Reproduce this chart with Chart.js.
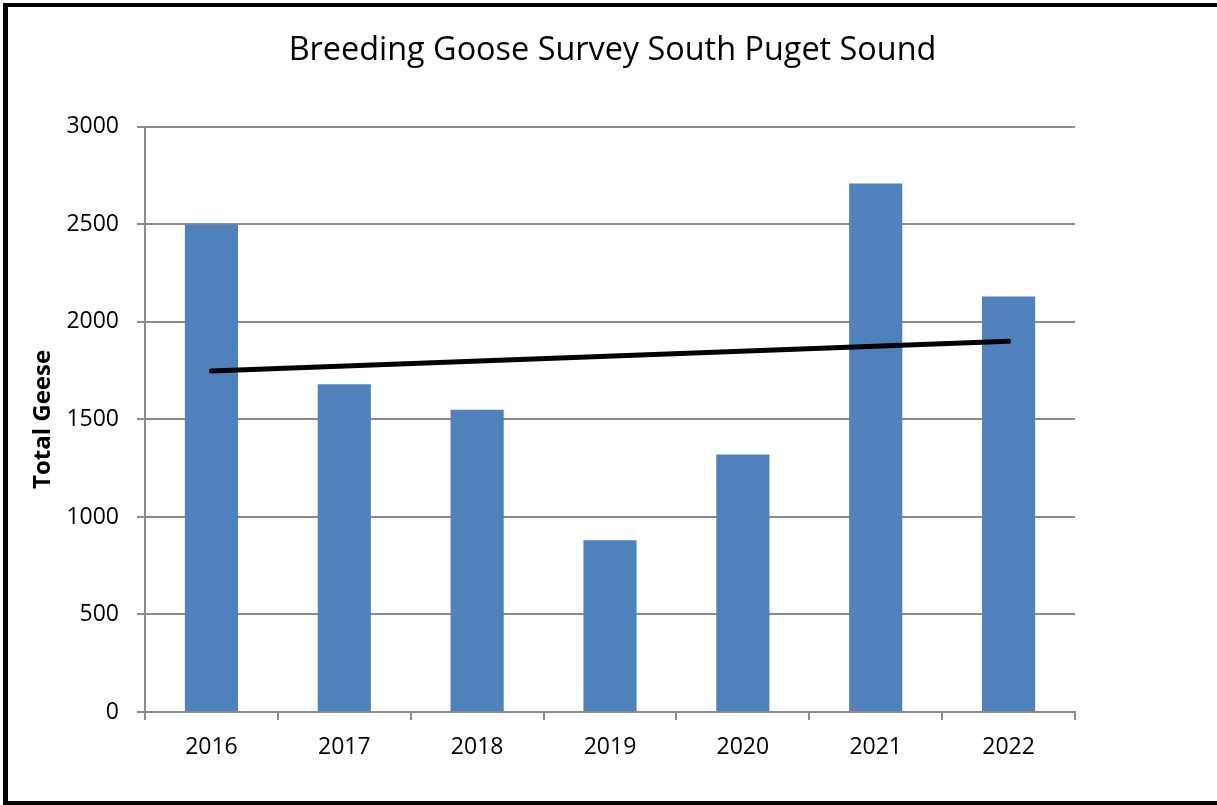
<!DOCTYPE html>
<html>
<head>
<meta charset="utf-8">
<script src="https://cdn.jsdelivr.net/npm/chart.js@4"></script>
<style>
  html, body { margin: 0; padding: 0; background: #fff; overflow: hidden; }
  #frame {
    position: absolute; left: 3px; top: 3px; width: 1300px; height: 794px;
    border-left: 5px solid #000; border-top: 4px solid #000; border-bottom: 4px solid #000;
  }
  #wrap { position: absolute; left: 0; top: 0; width: 1217px; height: 805px; }
</style>
</head>
<body>
<div id="frame"></div>
<div id="wrap"><canvas id="gooseChart"></canvas></div>
<script>
  // survey years and counts
  const years = ['2016', '2017', '2018', '2019', '2020', '2021', '2022'];
  const totalGeese = [2500, 1680, 1550, 880, 1320, 2710, 2130];
  // trend line ends (only the two end points are drawn)
  const trendGeese = [1748, null, null, null, null, null, 1901];
  const yTicks = [0, 500, 1000, 1500, 2000, 2500, 3000];

  const gridGray = '#8a8a8a';
  const font = 'Open Sans';

  const ctx = document.getElementById('gooseChart').getContext('2d');
  new Chart(ctx, {
    type: 'bar',
    data: {
      labels: years,
      datasets: [
        {
          type: 'line',
          label: 'Trend',
          data: trendGeese,
          borderColor: '#000',
          borderWidth: 5,
          borderCapStyle: 'round',
          spanGaps: true,
          pointRadius: 0,
          fill: false,
          order: 0
        },
        {
          label: 'Total Geese',
          data: totalGeese,
          backgroundColor: '#4F81BD',
          barPercentage: 0.4,
          categoryPercentage: 1.0,
          order: 1
        }
      ]
    },
    options: {
      responsive: true,
      maintainAspectRatio: false,
      animation: false,
      layout: { padding: { left: 8, right: 0, top: 31, bottom: 0 } },
      plugins: {
        legend: { display: false },
        tooltip: { enabled: false },
        title: {
          display: true,
          text: 'Breeding Goose Survey South Puget Sound',
          color: '#000',
          font: { family: font, size: 32.4, weight: 'normal' },
          padding: { top: 0, bottom: 57 }
        }
      },
      scales: {
        x: {
          grid: { drawOnChartArea: false, drawTicks: true, tickLength: 8, color: gridGray, lineWidth: 2 },
          border: { color: gridGray, width: 2 },
          ticks: { color: '#000', font: { family: font, size: 23 }, padding: 14 },
          afterFit: scale => { scale.height = 93; }
        },
        y: {
          min: 0,
          max: 3000,
          afterBuildTicks: scale => { scale.ticks = yTicks.map(v => ({ value: v })); },
          grid: { color: gridGray, lineWidth: 2, tickLength: 8 },
          border: { color: gridGray, width: 2 },
          ticks: {
            color: '#000',
            font: { family: font, size: 23 },
            padding: 18,
            callback: v => String(v)
          },
          title: {
            display: true,
            text: 'Total Geese',
            color: '#000',
            font: { family: font, size: 24, weight: 'bold' },
            padding: { top: 21, bottom: 0 }
          },
          afterFit: scale => { scale.width = 137; }
        },
        // empty right-hand space so the title stays centred on the whole page
        yRight: {
          position: 'right',
          display: true,
          grid: { display: false },
          border: { display: false },
          ticks: { display: false },
          afterFit: scale => { scale.width = 142; }
        }
      }
    }
  });
</script>
</body>
</html>
